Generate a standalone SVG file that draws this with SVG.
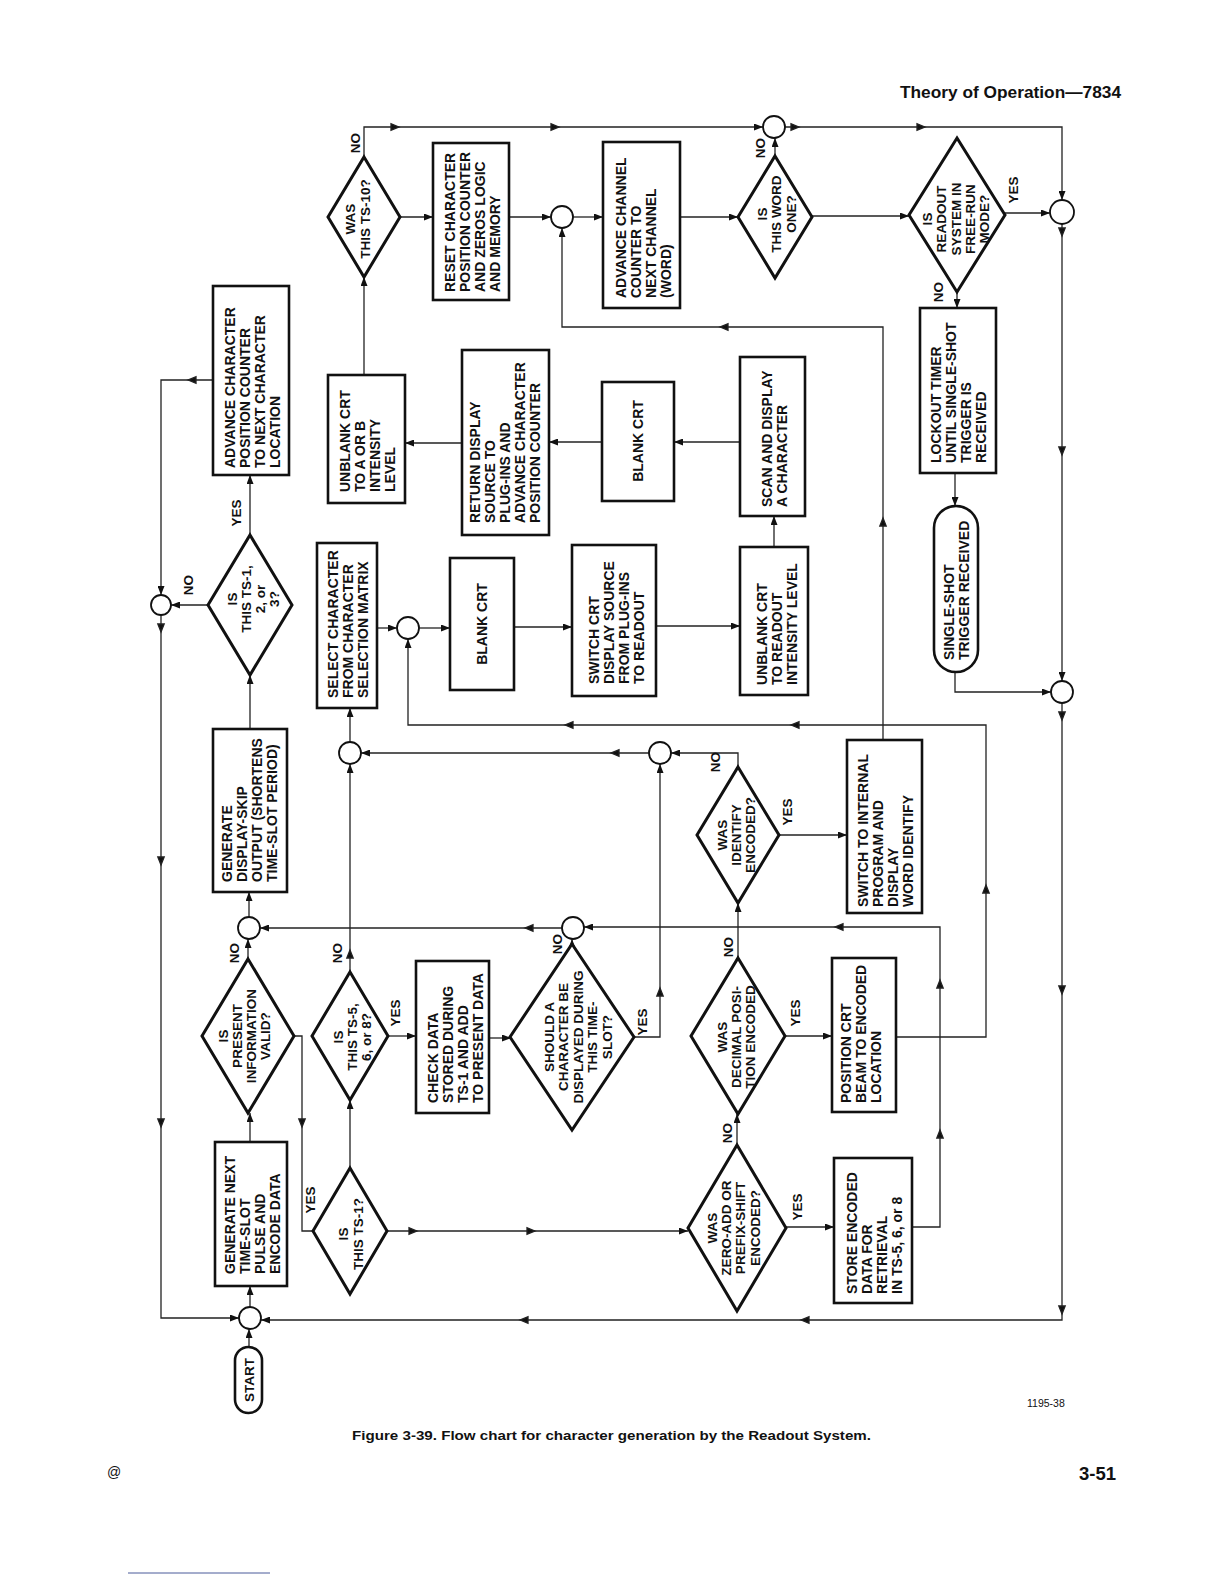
<svg xmlns="http://www.w3.org/2000/svg" xmlns:xlink="http://www.w3.org/1999/xlink" width="1224" height="1584" viewBox="0 0 1224 1584">
<defs>
<style>
.box{fill:#fff;stroke:#111;stroke-width:2.6}
.dia{fill:#fff;stroke:#111;stroke-width:3}
.con{fill:#fff;stroke:#111;stroke-width:1.8}
.ln{fill:none;stroke:#222;stroke-width:1.3}
.t{font-family:"Liberation Sans",Arial,Helvetica,sans-serif;font-weight:bold;font-size:14px;fill:#111}
.d{font-size:13.5px;text-anchor:middle}
.c{text-anchor:middle}
.lb{font-family:"Liberation Sans",Arial,Helvetica,sans-serif;font-weight:bold;font-size:13.5px;fill:#111;text-anchor:middle}
.pg{font-family:"Liberation Sans",Arial,Helvetica,sans-serif;fill:#111}
</style>
<marker id="arr" viewBox="0 0 9 7" refX="9" refY="3.5" markerWidth="9" markerHeight="7" markerUnits="userSpaceOnUse" orient="auto"><path d="M0,0 L9,3.5 L0,7 Z" fill="#111"/></marker>
<path id="ah" d="M0,0 L-8,-3.2 L-8,3.2 Z" fill="#111"/>
</defs>
<rect x="0" y="0" width="1224" height="1584" fill="#fff"/>

<!-- page texts -->
<text class="pg" x="900" y="98" font-size="17" font-weight="bold" textLength="221" lengthAdjust="spacingAndGlyphs">Theory of Operation—7834</text>
<text class="pg" x="352" y="1440" font-size="13" font-weight="bold" textLength="519" lengthAdjust="spacingAndGlyphs">Figure 3-39. Flow chart for character generation by the Readout System.</text>
<text class="pg" x="1079" y="1480" font-size="18.5" font-weight="bold">3-51</text>
<text class="pg" x="107" y="1477" font-size="14">@</text>
<text class="pg" x="1027" y="1407" font-size="10.5">1195-38</text>
<line x1="128" y1="1573" x2="270" y2="1573" stroke="#4a5a9a" stroke-width="1"/>

<!-- connectors -->
<g id="connectors" class="ln">
<path d="M364,157 V127 H763" marker-end="url(#arr)"/>
<path d="M785,127 H1062 V200" marker-end="url(#arr)"/>
<path d="M400,217 H433" marker-end="url(#arr)"/>
<path d="M364,375 V277" marker-end="url(#arr)"/>
<path d="M509,217 H551" marker-end="url(#arr)"/>
<path d="M573,217 H603" marker-end="url(#arr)"/>
<path d="M680,217 H738" marker-end="url(#arr)"/>
<path d="M775,156 V138" marker-end="url(#arr)"/>
<path d="M812,216 H909" marker-end="url(#arr)"/>
<path d="M1005,213 H1050" marker-end="url(#arr)"/>
<path d="M957,292 V308" marker-end="url(#arr)"/>
<path d="M955,473 V506" marker-end="url(#arr)"/>
<path d="M955,672 V692 H1051" marker-end="url(#arr)"/>
<path d="M1062,224 V681" marker-end="url(#arr)"/>
<path d="M1062,703 V1320 H261" marker-end="url(#arr)"/>
<path d="M883,740 V327 H562 V228" marker-end="url(#arr)"/>
<path d="M740,442 H674" marker-end="url(#arr)"/>
<path d="M602,442 H549" marker-end="url(#arr)"/>
<path d="M462,443 H405" marker-end="url(#arr)"/>
<path d="M774,547 V516" marker-end="url(#arr)"/>
<path d="M377,628 H397" marker-end="url(#arr)"/>
<path d="M419,628 H450" marker-end="url(#arr)"/>
<path d="M514,627 H572" marker-end="url(#arr)"/>
<path d="M656,626 H740" marker-end="url(#arr)"/>
<path d="M896,1037 H986 V725 H408 V639" marker-end="url(#arr)"/>
<path d="M350,742 V708" marker-end="url(#arr)"/>
<path d="M649,753 H361" marker-end="url(#arr)"/>
<path d="M738,767 V753 H671" marker-end="url(#arr)"/>
<path d="M634,1037 H660 V764" marker-end="url(#arr)"/>
<path d="M572,944 V939" marker-end="url(#arr)"/>
<path d="M562,928 H260" marker-end="url(#arr)"/>
<path d="M912,1227 H940 V927 H584" marker-end="url(#arr)"/>
<path d="M249,917 V892" marker-end="url(#arr)"/>
<path d="M248,959 V939" marker-end="url(#arr)"/>
<path d="M250,729 V675" marker-end="url(#arr)"/>
<path d="M250,535 V475" marker-end="url(#arr)"/>
<path d="M213,380 H161 V595" marker-end="url(#arr)"/>
<path d="M208,605 H171" marker-end="url(#arr)"/>
<path d="M161,615 V1318 H239" marker-end="url(#arr)"/>
<path d="M294,1036 H302 V1231 H313"/>
<path d="M350,1168 V1100" marker-end="url(#arr)"/>
<path d="M350,972 V764" marker-end="url(#arr)"/>
<path d="M388,1036 H416" marker-end="url(#arr)"/>
<path d="M489,1038 H511" marker-end="url(#arr)"/>
<path d="M779,835 H847" marker-end="url(#arr)"/>
<path d="M738,958 V903" marker-end="url(#arr)"/>
<path d="M785,1036 H832" marker-end="url(#arr)"/>
<path d="M387,1231 H688" marker-end="url(#arr)"/>
<path d="M737,1145 V1114" marker-end="url(#arr)"/>
<path d="M786,1227 H834" marker-end="url(#arr)"/>
<path d="M250,1142 V1113" marker-end="url(#arr)"/>
<path d="M250,1307 V1286" marker-end="url(#arr)"/>
<path d="M249,1347 V1329" marker-end="url(#arr)"/>
<!-- mid-line arrowheads -->
<use xlink:href="#ah" href="#ah" transform="translate(399,127)"/>
<use xlink:href="#ah" href="#ah" transform="translate(559,127)"/>
<use xlink:href="#ah" href="#ah" transform="translate(799,127)"/>
<use xlink:href="#ah" href="#ah" transform="translate(925,127)"/>
<use xlink:href="#ah" href="#ah" transform="translate(1062,236) rotate(90)"/>
<use xlink:href="#ah" href="#ah" transform="translate(1062,455) rotate(90)"/>
<use xlink:href="#ah" href="#ah" transform="translate(1062,720) rotate(90)"/>
<use xlink:href="#ah" href="#ah" transform="translate(1062,994) rotate(90)"/>
<use xlink:href="#ah" href="#ah" transform="translate(1062,1314) rotate(90)"/>
<use xlink:href="#ah" href="#ah" transform="translate(801,1320) rotate(180)"/>
<use xlink:href="#ah" href="#ah" transform="translate(520,1320) rotate(180)"/>
<use xlink:href="#ah" href="#ah" transform="translate(883,518) rotate(-90)"/>
<use xlink:href="#ah" href="#ah" transform="translate(720,327) rotate(180)"/>
<use xlink:href="#ah" href="#ah" transform="translate(986,885) rotate(-90)"/>
<use xlink:href="#ah" href="#ah" transform="translate(791,725) rotate(180)"/>
<use xlink:href="#ah" href="#ah" transform="translate(565,725) rotate(180)"/>
<use xlink:href="#ah" href="#ah" transform="translate(611,753) rotate(180)"/>
<use xlink:href="#ah" href="#ah" transform="translate(660,988) rotate(-90)"/>
<use xlink:href="#ah" href="#ah" transform="translate(525,928) rotate(180)"/>
<use xlink:href="#ah" href="#ah" transform="translate(940,1130) rotate(-90)"/>
<use xlink:href="#ah" href="#ah" transform="translate(940,980) rotate(-90)"/>
<use xlink:href="#ah" href="#ah" transform="translate(835,927) rotate(180)"/>
<use xlink:href="#ah" href="#ah" transform="translate(188,380) rotate(180)"/>
<use xlink:href="#ah" href="#ah" transform="translate(161,632) rotate(90)"/>
<use xlink:href="#ah" href="#ah" transform="translate(161,865) rotate(90)"/>
<use xlink:href="#ah" href="#ah" transform="translate(161,1127) rotate(90)"/>
<use xlink:href="#ah" href="#ah" transform="translate(302,1127) rotate(90)"/>
<use xlink:href="#ah" href="#ah" transform="translate(350,950) rotate(-90)"/>
<use xlink:href="#ah" href="#ah" transform="translate(417,1231)"/>
<use xlink:href="#ah" href="#ah" transform="translate(535,1231)"/>
</g>

<!-- junction circles -->
<g id="junctions">
<circle id="j1" class="con" cx="774" cy="127" r="11"/>
<circle id="j2" class="con" cx="562" cy="217" r="11"/>
<circle id="j3" class="con" cx="1062" cy="212" r="12"/>
<circle id="j4" class="con" cx="1062" cy="692" r="11"/>
<circle id="j5" class="con" cx="161" cy="605" r="10"/>
<circle id="j6" class="con" cx="408" cy="628" r="11"/>
<circle id="j7" class="con" cx="350" cy="753" r="11"/>
<circle id="j8" class="con" cx="660" cy="753" r="11"/>
<circle id="j9" class="con" cx="249" cy="928" r="11"/>
<circle id="j10" class="con" cx="573" cy="928" r="11"/>
<circle id="j11" class="con" cx="250" cy="1318" r="11"/>
</g>

<!-- nodes -->
<g id="adv-char"><rect class="box" x="213" y="286" width="76" height="189"/>
<text class="t" transform="translate(235,468) rotate(-90)"><tspan x="0" y="0">ADVANCE CHARACTER</tspan><tspan x="0" y="15">POSITION COUNTER</tspan><tspan x="0" y="30">TO NEXT CHARACTER</tspan><tspan x="0" y="45">LOCATION</tspan></text></g>

<g id="reset"><rect class="box" x="433" y="143" width="76" height="157"/>
<text class="t" transform="translate(455,292) rotate(-90)"><tspan x="0" y="0">RESET CHARACTER</tspan><tspan x="0" y="15">POSITION COUNTER</tspan><tspan x="0" y="30">AND ZEROS LOGIC</tspan><tspan x="0" y="45">AND MEMORY</tspan></text></g>

<g id="adv-channel"><rect class="box" x="603" y="142" width="77" height="166"/>
<text class="t" transform="translate(626,298) rotate(-90)"><tspan x="0" y="0">ADVANCE CHANNEL</tspan><tspan x="0" y="15">COUNTER TO</tspan><tspan x="0" y="30">NEXT CHANNEL</tspan><tspan x="0" y="45">(WORD)</tspan></text></g>

<g id="lockout"><rect class="box" x="920" y="308" width="76" height="165"/>
<text class="t" transform="translate(940.5,463) rotate(-90)"><tspan x="0" y="0">LOCKOUT TIMER</tspan><tspan x="0" y="15">UNTIL SINGLE-SHOT</tspan><tspan x="0" y="30">TRIGGER IS</tspan><tspan x="0" y="45">RECEIVED</tspan></text></g>

<g id="single-shot"><rect class="box" x="934" y="506" width="44" height="166" rx="22" ry="22"/>
<text class="t" transform="translate(954,660) rotate(-90)"><tspan x="0" y="0">SINGLE-SHOT</tspan><tspan x="0" y="15">TRIGGER RECEIVED</tspan></text></g>

<g id="unblank-ab"><rect class="box" x="328" y="375" width="77" height="128"/>
<text class="t" transform="translate(349.5,492) rotate(-90)"><tspan x="0" y="0">UNBLANK CRT</tspan><tspan x="0" y="15">TO A OR B</tspan><tspan x="0" y="30">INTENSITY</tspan><tspan x="0" y="45">LEVEL</tspan></text></g>

<g id="return-display"><rect class="box" x="462" y="350" width="87" height="185"/>
<text class="t" transform="translate(480,523) rotate(-90)"><tspan x="0" y="0">RETURN DISPLAY</tspan><tspan x="0" y="15">SOURCE TO</tspan><tspan x="0" y="30">PLUG-INS AND</tspan><tspan x="0" y="45">ADVANCE CHARACTER</tspan><tspan x="0" y="60">POSITION COUNTER</tspan></text></g>

<g id="blank-crt-1"><rect class="box" x="602" y="382" width="72" height="119"/>
<text class="t c" transform="translate(643,441) rotate(-90)">BLANK CRT</text></g>

<g id="scan-display"><rect class="box" x="740" y="357" width="65" height="159"/>
<text class="t" transform="translate(772,507) rotate(-90)"><tspan x="0" y="0">SCAN AND DISPLAY</tspan><tspan x="0" y="15">A CHARACTER</tspan></text></g>

<g id="select-char"><rect class="box" x="317" y="543" width="60" height="165"/>
<text class="t" transform="translate(338,698) rotate(-90)"><tspan x="0" y="0">SELECT CHARACTER</tspan><tspan x="0" y="15">FROM CHARACTER</tspan><tspan x="0" y="30">SELECTION MATRIX</tspan></text></g>

<g id="blank-crt-2"><rect class="box" x="450" y="558" width="64" height="132"/>
<text class="t c" transform="translate(487,624) rotate(-90)">BLANK CRT</text></g>

<g id="switch-crt"><rect class="box" x="572" y="545" width="84" height="151"/>
<text class="t" transform="translate(599,684) rotate(-90)"><tspan x="0" y="0">SWITCH CRT</tspan><tspan x="0" y="15">DISPLAY SOURCE</tspan><tspan x="0" y="30">FROM PLUG-INS</tspan><tspan x="0" y="45">TO READOUT</tspan></text></g>

<g id="unblank-readout"><rect class="box" x="740" y="547" width="68" height="148"/>
<text class="t" transform="translate(767,685) rotate(-90)"><tspan x="0" y="0">UNBLANK CRT</tspan><tspan x="0" y="15">TO READOUT</tspan><tspan x="0" y="30">INTENSITY LEVEL</tspan></text></g>

<g id="gen-skip"><rect class="box" x="213" y="729" width="74" height="163"/>
<text class="t" transform="translate(232,882) rotate(-90)"><tspan x="0" y="0">GENERATE</tspan><tspan x="0" y="15">DISPLAY-SKIP</tspan><tspan x="0" y="30">OUTPUT (SHORTENS</tspan><tspan x="0" y="45">TIME-SLOT PERIOD)</tspan></text></g>

<g id="switch-internal"><rect class="box" x="847" y="740" width="75" height="173"/>
<text class="t" transform="translate(868,907) rotate(-90)"><tspan x="0" y="0">SWITCH TO INTERNAL</tspan><tspan x="0" y="15">PROGRAM AND</tspan><tspan x="0" y="30">DISPLAY</tspan><tspan x="0" y="45">WORD IDENTIFY</tspan></text></g>

<g id="check-data"><rect class="box" x="416" y="961" width="73" height="152"/>
<text class="t" transform="translate(438,1103) rotate(-90)"><tspan x="0" y="0">CHECK DATA</tspan><tspan x="0" y="15">STORED DURING</tspan><tspan x="0" y="30">TS-1 AND ADD</tspan><tspan x="0" y="45">TO PRESENT DATA</tspan></text></g>

<g id="position-crt"><rect class="box" x="832" y="958" width="64" height="154"/>
<text class="t" transform="translate(851,1103) rotate(-90)"><tspan x="0" y="0">POSITION CRT</tspan><tspan x="0" y="15">BEAM TO ENCODED</tspan><tspan x="0" y="30">LOCATION</tspan></text></g>

<g id="store-encoded"><rect class="box" x="834" y="1158" width="78" height="145"/>
<text class="t" transform="translate(857,1294) rotate(-90)"><tspan x="0" y="0">STORE ENCODED</tspan><tspan x="0" y="15">DATA FOR</tspan><tspan x="0" y="30">RETRIEVAL</tspan><tspan x="0" y="45">IN TS-5, 6, or 8</tspan></text></g>

<g id="gen-next"><rect class="box" x="215" y="1142" width="72" height="144"/>
<text class="t" transform="translate(235,1274) rotate(-90)"><tspan x="0" y="0">GENERATE NEXT</tspan><tspan x="0" y="15">TIME-SLOT</tspan><tspan x="0" y="30">PULSE AND</tspan><tspan x="0" y="45">ENCODE DATA</tspan></text></g>

<g id="start"><rect class="box" x="235" y="1347" width="27" height="66" rx="13.5" ry="13.5"/>
<text class="t d" transform="translate(253.5,1380) rotate(-90)">START</text></g>

<!-- decisions -->
<g id="was-ts10"><polygon class="dia" points="364,157 400,217 364,277 328,217"/>
<text class="t d" transform="translate(354.8,219) rotate(-90)"><tspan x="0" y="0">WAS</tspan><tspan x="0" y="15.5">THIS TS-10?</tspan></text></g>

<g id="word-one"><polygon class="dia" points="775,156 812,217 775,278 738,217"/>
<text class="t d" transform="translate(766.8,214) rotate(-90)"><tspan x="0" y="0">IS</tspan><tspan x="0" y="14.5">THIS WORD</tspan><tspan x="0" y="29">ONE?</tspan></text></g>

<g id="free-run"><polygon class="dia" points="957,138 1005,215 957,292 909,215"/>
<text class="t d" transform="translate(932.3,219) rotate(-90)"><tspan x="0" y="0">IS</tspan><tspan x="0" y="14.2">READOUT</tspan><tspan x="0" y="28.4">SYSTEM IN</tspan><tspan x="0" y="42.6">FREE-RUN</tspan><tspan x="0" y="56.8">MODE?</tspan></text></g>

<g id="ts123"><polygon class="dia" points="250,535 292,605 250,675 208,605"/>
<text class="t d" transform="translate(236.8,599) rotate(-90)"><tspan x="0" y="0">IS</tspan><tspan x="0" y="14">THIS TS-1,</tspan><tspan x="0" y="28">2, or</tspan><tspan x="0" y="42">3?</tspan></text></g>

<g id="present-valid"><polygon class="dia" points="248,959 294,1036 248,1113 202,1036"/>
<text class="t d" transform="translate(227.8,1036) rotate(-90)"><tspan x="0" y="0">IS</tspan><tspan x="0" y="14">PRESENT</tspan><tspan x="0" y="28">INFORMATION</tspan><tspan x="0" y="42">VALID?</tspan></text></g>

<g id="ts568"><polygon class="dia" points="350,972 388,1036 350,1100 312,1036"/>
<text class="t d" transform="translate(342.8,1037) rotate(-90)"><tspan x="0" y="0">IS</tspan><tspan x="0" y="14">THIS TS-5,</tspan><tspan x="0" y="28">6, or 8?</tspan></text></g>

<g id="should-display"><polygon class="dia" points="572,944 634,1037 572,1130 510,1037"/>
<text class="t d" transform="translate(553.8,1037) rotate(-90)"><tspan x="0" y="0">SHOULD A</tspan><tspan x="0" y="14.5">CHARACTER BE</tspan><tspan x="0" y="29">DISPLAYED DURING</tspan><tspan x="0" y="43.5">THIS TIME-</tspan><tspan x="0" y="58">SLOT?</tspan></text></g>

<g id="identify"><polygon class="dia" points="738,767 779,835 738,903 697,835"/>
<text class="t d" transform="translate(726.8,835) rotate(-90)"><tspan x="0" y="0">WAS</tspan><tspan x="0" y="14">IDENTIFY</tspan><tspan x="0" y="28">ENCODED?</tspan></text></g>

<g id="decimal"><polygon class="dia" points="738,958 785,1036 738,1114 691,1036"/>
<text class="t d" transform="translate(726.8,1037) rotate(-90)"><tspan x="0" y="0">WAS</tspan><tspan x="0" y="14">DECIMAL POSI-</tspan><tspan x="0" y="28">TION ENCODED</tspan></text></g>

<g id="zero-add"><polygon class="dia" points="737,1145 786,1228 737,1311 688,1228"/>
<text class="t d" transform="translate(716.8,1228) rotate(-90)"><tspan x="0" y="0">WAS</tspan><tspan x="0" y="14.3">ZERO-ADD OR</tspan><tspan x="0" y="28.6">PREFIX-SHIFT</tspan><tspan x="0" y="42.9">ENCODED?</tspan></text></g>

<g id="ts1"><polygon class="dia" points="350,1168 387,1231 350,1294 313,1231"/>
<text class="t d" transform="translate(347.8,1234) rotate(-90)"><tspan x="0" y="0">IS</tspan><tspan x="0" y="15">THIS TS-1?</tspan></text></g>

<!-- branch labels -->
<g id="labels">
<text class="lb" transform="translate(359.8,143) rotate(-90)">NO</text>
<text class="lb" transform="translate(764.8,148) rotate(-90)">NO</text>
<text class="lb" transform="translate(1017.8,190) rotate(-90)">YES</text>
<text class="lb" transform="translate(942.8,292) rotate(-90)">NO</text>
<text class="lb" transform="translate(240.8,513) rotate(-90)">YES</text>
<text class="lb" transform="translate(192.8,585) rotate(-90)">NO</text>
<text class="lb" transform="translate(719.8,762) rotate(-90)">NO</text>
<text class="lb" transform="translate(791.8,812) rotate(-90)">YES</text>
<text class="lb" transform="translate(238.8,953) rotate(-90)">NO</text>
<text class="lb" transform="translate(341.8,953) rotate(-90)">NO</text>
<text class="lb" transform="translate(399.8,1013) rotate(-90)">YES</text>
<text class="lb" transform="translate(561.8,944) rotate(-90)">NO</text>
<text class="lb" transform="translate(646.8,1022) rotate(-90)">YES</text>
<text class="lb" transform="translate(732.8,947) rotate(-90)">NO</text>
<text class="lb" transform="translate(799.8,1013) rotate(-90)">YES</text>
<text class="lb" transform="translate(731.8,1133) rotate(-90)">NO</text>
<text class="lb" transform="translate(801.8,1207) rotate(-90)">YES</text>
<text class="lb" transform="translate(314.8,1200) rotate(-90)">YES</text>
</g>
</svg>
